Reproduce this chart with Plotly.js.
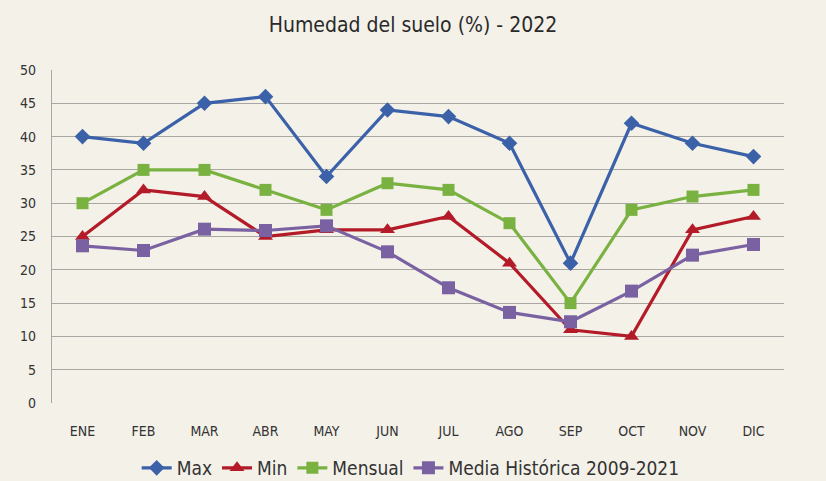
<!DOCTYPE html>
<html><head><meta charset="utf-8">
<script src="https://cdn.plot.ly/plotly-3.0.1.min.js"></script>
<style>body{margin:0;background:#F4F1E9;}#c{width:826px;height:481px;}</style>
</head><body><div id="c"></div>
<script>
const months = ["ENE","FEB","MAR","ABR","MAY","JUN","JUL","AGO","SEP","OCT","NOV","DIC"];
const maxVals = [40,39,45,46,34,44,43,39,21,42,39,37];
const minVals = [25,32,31,25,26,26,28,21,11,10,26,28];
const mensualVals = [30,35,35,32,29,33,32,27,15,29,31,32];
const mediaVals = [23.6,22.9,26.1,25.9,26.6,22.7,17.3,13.6,12.2,16.8,22.2,23.8];
const yTicks = [0,5,10,15,20,25,30,35,40,45,50];

const font = '"DejaVu Sans Condensed", "Liberation Sans", sans-serif';
function tr(name, y, color, symbol, size){
  return {x: months, y: y, name: name, type:'scatter', mode:'lines+markers',
    line:{color: color, width:3.2}, marker:{symbol: symbol, size: size, color: color}};
}
const data = [
  tr('Max', maxVals, '#3B62A8', 'diamond', 12),
  tr('Min', minVals, '#B31B28', 'triangle-up', 13),
  tr('Mensual', mensualVals, '#7AB241', 'square', 12),
  tr('Media Histórica 2009-2021', mediaVals, '#7A62A2', 'square', 13)
];
const layout = {
  width:826, height:481,
  paper_bgcolor:'#F4F1E9', plot_bgcolor:'#F4F1E9',
  margin:{l:52, r:42, t:70, b:78},
  font:{family:font, color:'#333333'},
  title:{text:'Humedad del suelo (%) - 2022', x:0.5, xanchor:'center', y:0.948, yanchor:'middle', font:{size:21, color:'#2a2a2a', family:font}},
  xaxis:{type:'category', range:[-0.5,11.5], showgrid:false, zeroline:false, showline:false,
    ticks:'outside', ticklen:15, tickcolor:'rgba(0,0,0,0)', tickfont:{size:14, color:'#333'}},
  yaxis:{range:[0,50], tickvals:yTicks, showgrid:true, gridcolor:'#A9A7A3', gridwidth:1.3,
    zeroline:false, showline:true, linecolor:'#A9A7A3', linewidth:1.3,
    ticks:'outside', ticklen:12, tickcolor:'rgba(0,0,0,0)', tickfont:{size:14, color:'#333'}},
  showlegend:true,
  legend:{orientation:'h', x:0.49, xanchor:'center', yref:'container', y:0.027, yanchor:'middle', font:{size:19, color:'#333'}, itemwidth:30, tracegroupgap:0, bgcolor:'rgba(0,0,0,0)'}
};
Plotly.newPlot('c', data, layout, {displayModeBar:false});
</script></body></html>
